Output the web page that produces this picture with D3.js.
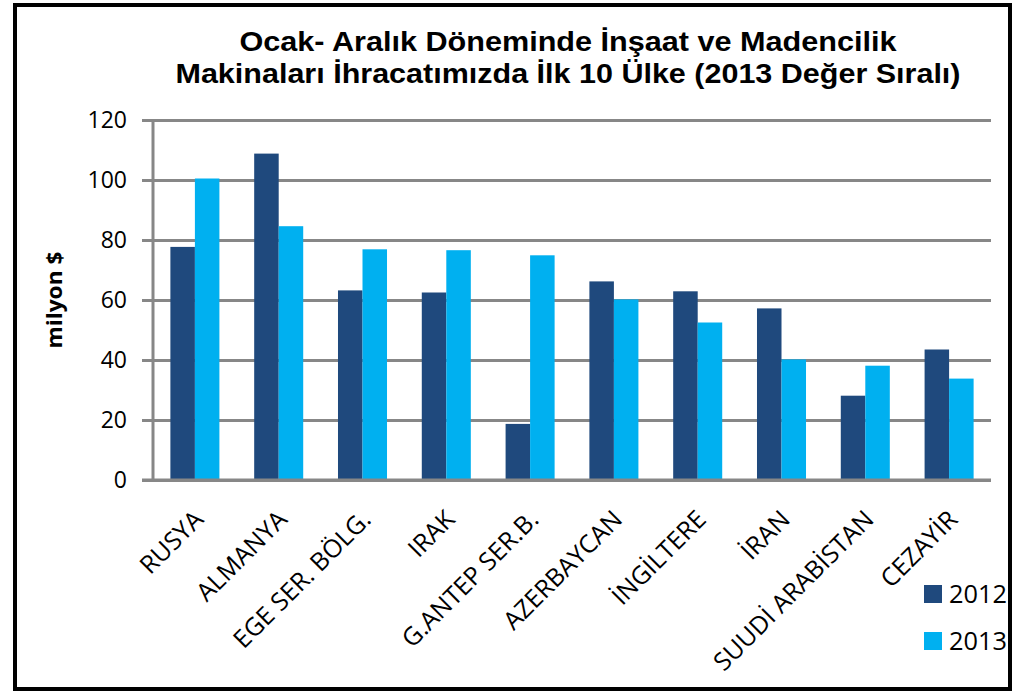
<!DOCTYPE html>
<html>
<head>
<meta charset="utf-8">
<script src="https://cdn.jsdelivr.net/npm/d3@7"></script>
<style>
  body { margin: 0; background: #fff; }
  svg { display: block; font-family: "Open Sans", "Noto Sans", sans-serif; }
</style>
</head>
<body>
<svg id="chart"></svg>
<script>
var countries = ["RUSYA", "ALMANYA", "EGE SER. BÖLG.", "IRAK", "G.ANTEP SER.B.",
  "AZERBAYCAN", "İNGİLTERE", "İRAN", "SUUDİ ARABİSTAN", "CEZAYİR"];
var years = ["2012", "2013"];
var values2012 = [77.7, 108.8, 63.2, 62.5, 18.7, 66.2, 62.9, 57.2, 28.1, 43.5];
var values2013 = [100.5, 84.6, 76.9, 76.6, 74.9, 60.2, 52.5, 40.2, 38.1, 33.8];
var yTicks = [0, 20, 40, 60, 80, 100, 120];
var titleLines = ["Ocak- Aralık Döneminde İnşaat ve Madencilik",
  "Makinaları İhracatımızda İlk 10 Ülke (2013 Değer Sıralı)"];

renderChart();

function renderChart(){
  var width = 1021, height = 693;
  var left = 153, right = 991, top = 120, bottom = 480;
  var colors = {"2012": "#1f497d", "2013": "#00b0f0"};
  var series = {"2012": values2012, "2013": values2013};

  var svg = d3.select('#chart')
              .attr('width', width)
              .attr('height', height);

  // outer frame
  svg.append('rect')
     .attr('x', 15).attr('y', 5)
     .attr('width', 995).attr('height', 684)
     .attr('fill', 'none')
     .attr('stroke', '#000')
     .attr('stroke-width', 4);

  // title
  svg.selectAll('.title')
     .data(titleLines)
     .enter()
     .append('text')
     .attr('class', 'title')
     .attr('x', 568)
     .attr('y', (d, i) => i == 0 ? 51 : 83)
     .attr('text-anchor', 'middle')
     .attr('font-family', '"Liberation Sans", Arial, sans-serif')
     .attr('font-weight', 'bold')
     .attr('font-size', '27px')
     .attr('textLength', (d, i) => i == 0 ? 657 : 785)
     .attr('lengthAdjust', 'spacingAndGlyphs')
     .text(d => d);

  var x = d3.scaleBand()
            .domain(countries)
            .range([left, right])
            .paddingInner(0.415)
            .paddingOuter(0.2075);
  var xs = d3.scaleBand()
             .domain(years)
             .range([0, x.bandwidth()]);
  var y = d3.scaleLinear()
            .domain([0, 120])
            .range([bottom, top]);

  // gridlines + tick labels (ticks run from right edge back past the axis)
  var grid = svg.append('g')
                .attr('transform', 'translate(' + right + ',0)')
                .call(d3.axisLeft(y).tickValues(yTicks).tickSize(right - left + 11).tickPadding(15));
  grid.select('.domain').remove();
  grid.selectAll('line').attr('stroke', '#878787').attr('stroke-width', 3);
  grid.selectAll('text')
      .attr('font-family', '"Open Sans", sans-serif')
      .attr('font-size', '23px')
      .attr('fill', '#000');

  // bars
  var groups = svg.selectAll('.grp')
                  .data(countries)
                  .enter()
                  .append('g')
                  .attr('class', 'grp')
                  .attr('transform', d => 'translate(' + x(d) + ',0)');

  groups.selectAll('rect')
        .data((d, i) => years.map(yr => ({year: yr, value: series[yr][i]})))
        .enter()
        .append('rect')
        .attr('x', d => xs(d.year))
        .attr('y', d => y(d.value))
        .attr('width', xs.bandwidth())
        .attr('height', d => bottom - y(d.value))
        .attr('fill', d => colors[d.year]);

  // axis lines
  svg.append('line')
     .attr('x1', left).attr('x2', left)
     .attr('y1', y(120) - 1).attr('y2', bottom + 1)
     .attr('stroke', '#878787').attr('stroke-width', 3);
  svg.append('line')
     .attr('x1', left - 11).attr('x2', right)
     .attr('y1', bottom).attr('y2', bottom)
     .attr('stroke', '#878787').attr('stroke-width', 3);

  // category labels
  svg.selectAll('.xlab')
     .data(countries)
     .enter()
     .append('text')
     .attr('class', 'xlab')
     .attr('transform', d => 'translate(' + (x(d) + x.bandwidth() / 2 + 10) + ',521) rotate(-45)')
     .attr('text-anchor', 'end')
     .attr('font-size', '25px')
     .text(d => d);

  // y axis title
  svg.append('text')
     .attr('transform', 'translate(62,300) rotate(-90)')
     .attr('text-anchor', 'middle')
     .attr('font-weight', 'bold')
     .attr('font-size', '22px')
     .attr('textLength', 97)
     .attr('lengthAdjust', 'spacingAndGlyphs')
     .text('milyon $');

  // legend
  var legend = svg.selectAll('.leg')
                  .data(years)
                  .enter()
                  .append('g')
                  .attr('class', 'leg')
                  .attr('transform', (d, i) => 'translate(924,' + (585 + i * 47) + ')');
  legend.append('rect')
        .attr('width', 18).attr('height', 18)
        .attr('fill', d => colors[d]);
  legend.append('text')
        .attr('x', 25).attr('y', 18)
        .attr('font-size', '26px')
        .attr('textLength', 58)
        .attr('lengthAdjust', 'spacingAndGlyphs')
        .text(d => d);
}
</script>
</body>
</html>
